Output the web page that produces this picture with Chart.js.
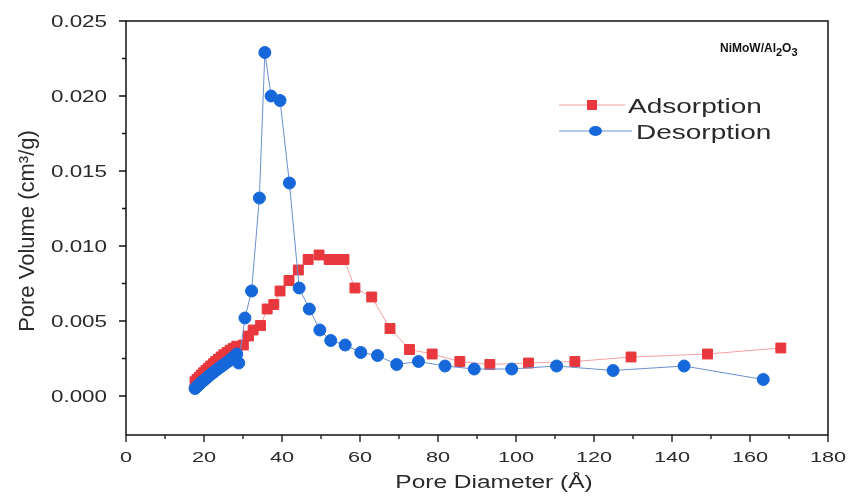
<!DOCTYPE html>
<html lang="en">
<head>
  <meta charset="UTF-8" />
  <title>Pore size distribution</title>
  <script src="https://cdn.jsdelivr.net/npm/chart.js"></script>
  <style>
    * { box-sizing: border-box; margin: 0; padding: 0; }
    body { background: #fff; }
    #wrap { width: 850px; height: 498px; position: relative; }
  </style>
</head>
<body>
  <div id="wrap"><canvas id="chart"></canvas></div>

  <script>
    // Adsorption branch (red squares)
    const adsX = [17.7, 18.2, 18.8, 19.3, 19.9, 20.5, 21.1, 21.7, 22.4, 23.0, 23.7, 24.4, 25.1, 25.9, 26.7, 27.5, 28.4,
                  30.1, 31.4, 32.6, 34.5, 36.2, 37.9, 39.5, 41.8, 44.2, 46.7, 49.5, 52.1, 54.0, 55.9, 58.7, 63.0,
                  67.7, 72.7, 78.5, 85.6, 93.3, 103.2, 115.1, 129.5, 149.1, 167.9];
    const adsY = [0.00095, 0.00110, 0.00125, 0.00140, 0.00155, 0.00170, 0.00185, 0.00200, 0.00215, 0.00230, 0.00245,
                  0.00260, 0.00275, 0.00290, 0.00305, 0.00318, 0.00332,
                  0.0034, 0.0040, 0.0044, 0.0047, 0.0058, 0.0061, 0.0070, 0.0077, 0.0084, 0.0091, 0.0094, 0.0091,
                  0.0091, 0.0091, 0.0072, 0.0066, 0.0045, 0.0031, 0.0028, 0.0023, 0.0021, 0.0022, 0.0023, 0.0026,
                  0.0028, 0.0032];

    // Desorption branch (blue circles)
    const desX = [17.7, 18.2, 18.8, 19.3, 19.9, 20.5, 21.1, 21.7, 22.4, 23.0, 23.7, 24.4, 25.1, 25.9, 26.7, 27.5, 28.4,
                  28.9, 30.5, 32.2, 34.2, 35.6, 37.2, 39.5, 41.9, 44.4, 47.0, 49.7, 52.5, 56.2, 60.2, 64.5, 69.4,
                  75.0, 81.8, 89.3, 98.9, 110.4, 124.9, 143.1, 163.4];
    const desY = [0.00050, 0.00063, 0.00077, 0.00090, 0.00103, 0.00117, 0.00130, 0.00143, 0.00157, 0.00170, 0.00183,
                  0.00197, 0.00210, 0.00225, 0.00240, 0.00258, 0.00280,
                  0.0022, 0.0052, 0.0070, 0.0132, 0.0229, 0.0200, 0.0197, 0.0142, 0.0072, 0.0058, 0.0044, 0.0037,
                  0.0034, 0.0029, 0.0027, 0.0021, 0.0023, 0.0020, 0.0018, 0.0018, 0.0020, 0.0017, 0.0020, 0.0011];

    const xMajor = [0, 20, 40, 60, 80, 100, 120, 140, 160, 180];
    const xMinor = [10, 30, 50, 70, 90, 110, 130, 150, 170];
    const yMajor = [0.000, 0.005, 0.010, 0.015, 0.020, 0.025];
    const yMinor = [0.0025, 0.0075, 0.0125, 0.0175, 0.0225];

    const seriesNames = ['Adsorption', 'Desorption'];
    const sampleName = ['NiMoW/Al', '2', 'O', '3'];
    const xTitle = 'Pore Diameter (Å)';
    const yTitle = 'Pore Volume (cm³/g)';

    const RED = '#e8383d';
    const BLUE = '#1667d9';
    const TXT = '#2a2a2a';
    const FONT = "'Liberation Sans', Arial, sans-serif";
    const SX = 1.4; // the source picture is stretched sideways

    const toPoints = (xs, ys) => xs.map((x, i) => ({ x: x, y: ys[i] }));

    // text drawn wider than normal, anchored at (x, y)
    function wideText(ctx, s, x, y, size, align) {
      ctx.save();
      ctx.font = size + 'px ' + FONT;
      const w = ctx.measureText(s).width * SX;
      let left = x;
      if (align === 'center') left = x - w / 2;
      else if (align === 'right') left = x - w;
      ctx.translate(left, y);
      ctx.scale(SX, 1);
      ctx.textAlign = 'left';
      ctx.textBaseline = 'alphabetic';
      ctx.fillText(s, 0, 0);
      ctx.restore();
    }

    // frame, ticks, labels, legend and sample label
    const decorPlugin = {
      id: 'decor',
      afterDraw(chart) {
        const { ctx, chartArea: a, scales: { x, y } } = chart;
        ctx.save();
        ctx.strokeStyle = '#111';
        ctx.lineWidth = 1.5;
        ctx.strokeRect(a.left, a.top, a.right - a.left, a.bottom - a.top);

        ctx.lineWidth = 1.3;
        ctx.beginPath();
        xMajor.forEach(v => { const p = x.getPixelForValue(v); ctx.moveTo(p, a.bottom); ctx.lineTo(p, a.bottom + 7); });
        xMinor.forEach(v => { const p = x.getPixelForValue(v); ctx.moveTo(p, a.bottom); ctx.lineTo(p, a.bottom + 4); });
        yMajor.forEach(v => { const p = y.getPixelForValue(v); ctx.moveTo(a.left, p); ctx.lineTo(a.left - 7, p); });
        yMinor.forEach(v => { const p = y.getPixelForValue(v); ctx.moveTo(a.left, p); ctx.lineTo(a.left - 4, p); });
        ctx.stroke();

        // tick labels
        ctx.fillStyle = TXT;
        x.ticks.forEach(t => wideText(ctx, String(t.value), x.getPixelForValue(t.value), a.bottom + 27, 15.5, 'center'));
        y.ticks.forEach(t => wideText(ctx, t.value.toFixed(3), a.left - 19, y.getPixelForValue(t.value) + 6, 16, 'right'));

        // axis titles
        wideText(ctx, xTitle, a.left + 368, 488, 17.5, 'center');
        ctx.save();
        ctx.translate(34, (a.top + a.bottom) / 2 + 3);
        ctx.rotate(-Math.PI / 2);
        ctx.font = '22px ' + FONT;
        ctx.textAlign = 'center';
        ctx.textBaseline = 'alphabetic';
        ctx.fillText(yTitle, 0, 0);
        ctx.restore();

        // legend
        const items = [
          { name: seriesNames[0], color: RED, line: '#f3a0a0', square: true, x0: 559, x1: 625, ty: 105, tx: 628 },
          { name: seriesNames[1], color: BLUE, line: '#6b8fcf', square: false, x0: 559, x1: 632, ty: 131, tx: 636 }
        ];
        items.forEach(it => {
          ctx.strokeStyle = it.line;
          ctx.lineWidth = 1;
          ctx.beginPath(); ctx.moveTo(it.x0, it.ty); ctx.lineTo(it.x1, it.ty); ctx.stroke();
          const cx = (it.x0 + it.x1) / 2;
          ctx.fillStyle = it.color;
          if (it.square) ctx.fillRect(cx - 5, it.ty - 5, 10, 10);
          else { ctx.beginPath(); ctx.ellipse(cx, it.ty, 6.5, 5, 0, 0, Math.PI * 2); ctx.fill(); }
          ctx.fillStyle = TXT;
          wideText(ctx, it.name, it.tx, it.ty + 8, 20, 'left');
        });

        // sample label with subscripts
        ctx.fillStyle = '#111';
        ctx.textBaseline = 'alphabetic';
        ctx.textAlign = 'left';
        let tx = 720;
        const base = 52;
        sampleName.forEach((s, i) => {
          const sub = i % 2 === 1;
          ctx.font = 'bold ' + (sub ? 11 : 12) + 'px ' + FONT;
          ctx.fillText(s, tx, sub ? base + 4 : base);
          tx += ctx.measureText(s).width;
        });
        ctx.restore();
      }
    };

    new Chart(document.getElementById('chart'), {
      type: 'scatter',
      data: {
        datasets: [
          {
            label: seriesNames[0],
            data: toPoints(adsX, adsY),
            showLine: true,
            borderColor: '#f3a0a0',
            borderWidth: 1,
            backgroundColor: RED,
            pointBackgroundColor: RED,
            pointBorderColor: RED,
            pointStyle: 'rect',
            pointRadius: 7,
            order: 2
          },
          {
            label: seriesNames[1],
            data: toPoints(desX, desY),
            showLine: true,
            borderColor: '#6b8fcf',
            borderWidth: 1,
            backgroundColor: BLUE,
            pointBackgroundColor: BLUE,
            pointBorderColor: BLUE,
            pointStyle: 'circle',
            pointRadius: 6,
            order: 1
          }
        ]
      },
      options: {
        responsive: true,
        maintainAspectRatio: false,
        animation: false,
        layout: { padding: { left: 0, right: 22, top: 21, bottom: 0 } },
        plugins: { legend: { display: false }, tooltip: { enabled: false } },
        scales: {
          x: {
            type: 'linear',
            min: 0,
            max: 180,
            grid: { display: false },
            border: { display: false },
            afterBuildTicks: s => { s.ticks = xMajor.map(v => ({ value: v })); },
            afterFit: s => { s.height = 63; },
            ticks: { display: false }
          },
          y: {
            type: 'linear',
            min: -0.0026,
            max: 0.025,
            grid: { display: false },
            border: { display: false },
            afterBuildTicks: s => { s.ticks = yMajor.map(v => ({ value: v })); },
            afterFit: s => { s.width = 126; },
            ticks: { display: false }
          }
        }
      },
      plugins: [decorPlugin]
    });
  </script>
</body>
</html>
